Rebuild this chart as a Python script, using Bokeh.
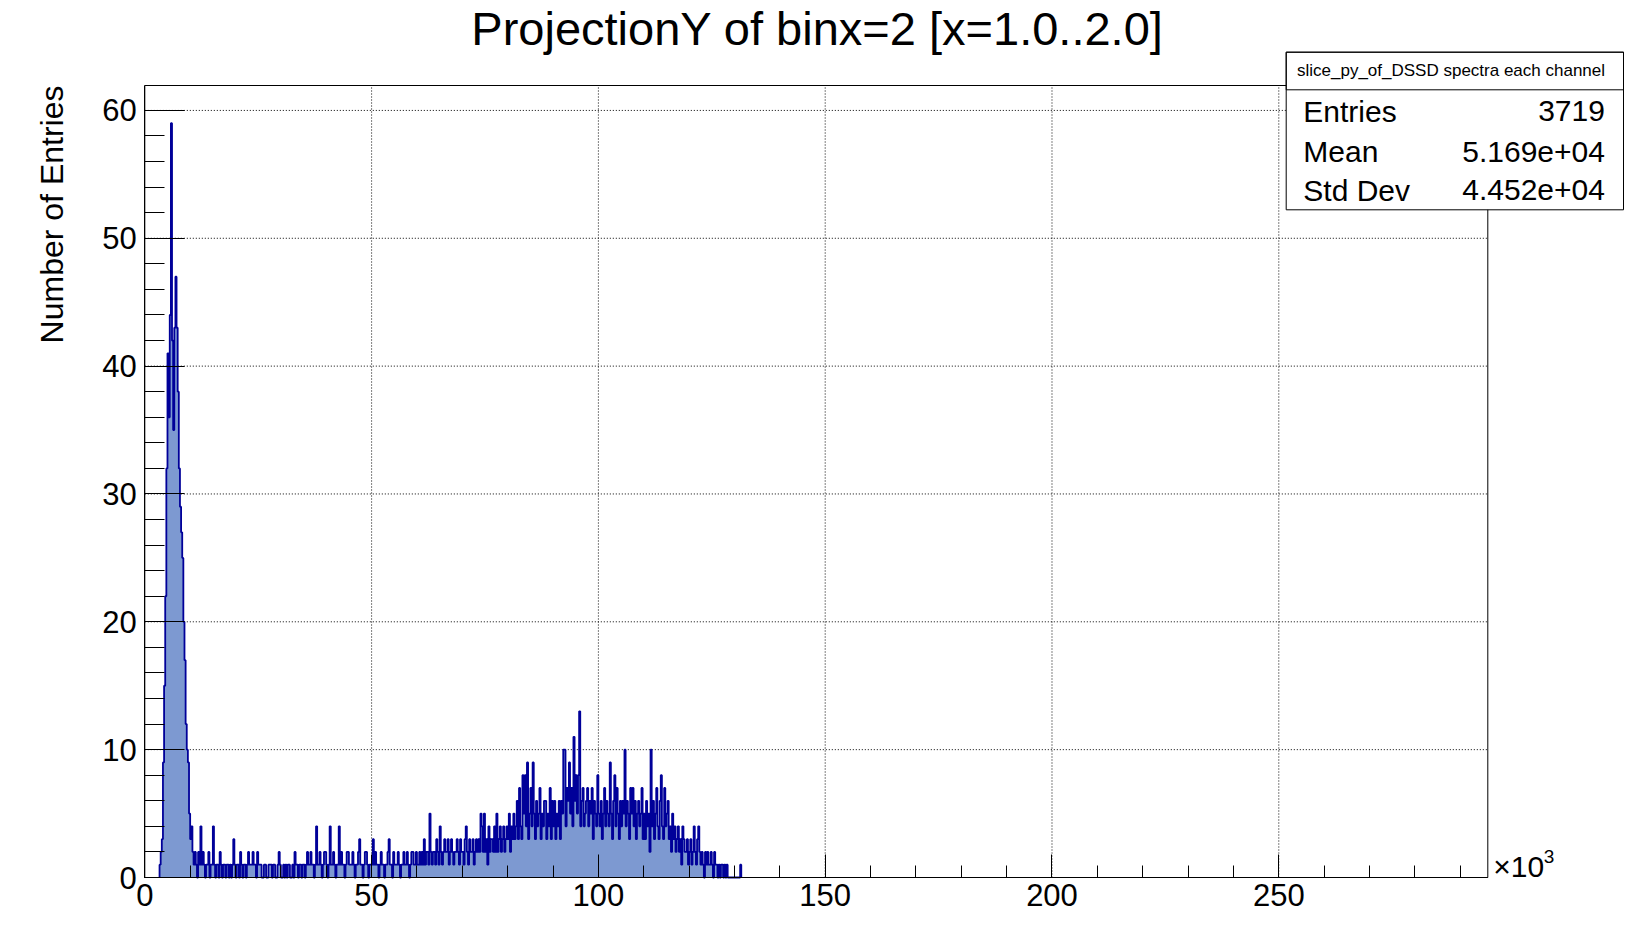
import numpy as np
from bokeh.plotting import figure
from bokeh.models import Range1d, FixedTicker, Label, BoxAnnotation
from bokeh.embed import file_html
from bokeh.resources import INLINE

# ---------------- data (x in units of 10^3) ----------------
bin_start = 3.25
bin_width = 0.25

peak_counts = [1, 2, 3, 9, 15, 22, 32, 41, 36, 44, 59, 42, 35, 43, 47, 43, 38, 32, 29, 27,
               25, 20, 17, 12, 10, 9, 5, 3, 4]
tail_counts_1 = [2, 1, 2, 1, 0, 2, 1, 4, 1, 2, 1, 0, 1, 1, 2, 0, 1, 1, 4, 1,
                 0, 1, 1, 0, 2, 1, 0, 1, 1, 0, 1, 1, 0, 1, 0, 1, 3, 1, 0, 1,
                 1, 0, 2, 1, 0, 1, 1, 0, 1, 2, 1]
tail_counts_2 = [1, 1, 2, 1, 1, 0, 2, 1, 1, 1, 0, 0, 1, 1, 0, 0, 1, 1, 1, 0,
                 1, 1, 0, 0, 1, 2, 1, 0, 0, 1, 0, 1, 0, 1, 1, 0, 0, 1, 0, 2,
                 1, 1, 0, 1, 1, 0, 1, 1, 0, 1, 2, 1, 1]
tail_counts_3 = [2, 1, 1, 0, 1, 4, 1, 1, 2, 1, 0, 1, 2, 2, 1, 0, 1, 4, 1, 1,
                 2, 1, 0, 1, 1, 4, 1, 2, 1, 1, 0, 1, 2, 2, 1, 1]
tail_counts_4 = [1, 2, 1, 0, 1, 1, 2, 3, 1, 1, 0, 1, 2, 2, 1, 0, 1, 1]
tail_counts_5 = [1, 3, 1, 2, 1, 1, 0, 1, 2, 1, 1, 0, 1, 1, 2, 3, 1, 1, 0, 2,
                 1, 1, 1, 2, 1, 0]
tail_counts_6 = [1, 1, 2, 1, 1, 2, 1, 0, 1, 2, 2, 1, 1, 2, 1, 1, 2, 1, 2, 1,
                 3, 1, 2, 2, 1, 5]
tail_counts_7 = [2, 1, 2, 2, 1, 3, 2, 1, 4, 2, 1, 2, 3, 2, 2, 3, 1, 2, 3, 2,
                 1, 2, 2, 3, 2, 1, 3, 2]
bump_counts_1 = [2, 1, 3, 4, 2, 1, 3, 2, 2, 3, 1, 2, 3, 2, 3, 2, 5, 4, 2, 5,
                 2, 3, 1, 4, 2, 3, 3, 2, 4, 2, 5, 2, 3, 4, 2, 3, 4, 2, 3, 4]
bump_counts_2 = [3, 5, 2, 4, 3, 5, 3, 4, 6, 3, 7, 4, 3, 8, 5, 8, 4, 9, 3, 5,
                 7, 4, 9, 5, 3, 6, 4, 5, 7, 3, 5, 4, 6, 6, 3, 5, 4, 7, 3, 6]
bump_counts_3 = [4, 6, 3, 5, 4, 6, 3, 6, 5, 10, 10, 4, 7, 6, 9, 5, 7, 4, 11, 6,
                 8, 5, 8, 13, 4, 6, 7, 4, 5, 6, 7, 4, 6, 5, 7, 3, 6, 5, 4, 8]
bump_counts_4 = [5, 4, 6, 3, 5, 7, 4, 6, 5, 4, 9, 5, 3, 6, 8, 4, 7, 5, 3, 6,
                 4, 6, 5, 10, 4, 6, 5, 3, 7, 5, 7, 4, 6, 3, 5, 6, 4, 5, 7, 3]
bump_counts_5 = [5, 3, 6, 4, 5, 2, 10, 4, 6, 3, 5, 7, 4, 3, 6, 8, 4, 3, 7, 4,
                 5, 6, 3, 4, 2, 5, 3, 4, 2, 3, 4, 2, 3, 1, 4, 3, 2, 2, 3, 1]
bump_counts_6 = [2, 3, 1, 2, 4, 2, 1, 3, 4, 2, 1, 2, 1, 0, 2, 1, 2, 1, 1, 2,
                 1, 0, 2, 1, 1, 0, 1, 0, 1, 1, 0, 1, 0, 1]
end_counts = [0, 0, 0, 0, 0, 0, 0, 0, 0, 0, 0, 1]

x_major = [0, 50, 100, 150, 200, 250]
x_minor = list(range(0, 300, 10))
y_major = [0, 10, 20, 30, 40, 50, 60]
y_minor = list(range(0, 62, 2))

title_text = "ProjectionY of binx=2 [x=1.0..2.0]"
y_title = "Number of Entries"
stats_name = "slice_py_of_DSSD spectra each channel"
stats_rows = [("Entries", "3719"), ("Mean", "5.169e+04"), ("Std Dev", "4.452e+04")]

counts = np.array(peak_counts + tail_counts_1 + tail_counts_2 + tail_counts_3 + tail_counts_4
                  + tail_counts_5 + tail_counts_6 + tail_counts_7 + bump_counts_1 + bump_counts_2
                  + bump_counts_3 + bump_counts_4 + bump_counts_5 + bump_counts_6 + end_counts,
                  dtype=float)
edges = bin_start + bin_width * np.arange(len(counts) + 1)

# step outline path (ROOT-like histogram outline)
sx = np.concatenate([[edges[0]], [edges[0]], np.repeat(edges[1:-1], 2), [edges[-1]], [edges[-1]]])
sy = np.concatenate([[0.0], np.repeat(counts, 2), [0.0]])

# ---------------- layout geometry (pixels) ----------------
W, H = 1625, 930
FRAME_L, FRAME_R, FRAME_T, FRAME_B = 144.3, 1487.3, 85.0, 877.0
X_MAX = 296.08
Y_MAX = 61.95
kx = (FRAME_R - FRAME_L) / X_MAX
ky = (FRAME_B - FRAME_T) / Y_MAX


def dx(px):
    return (px - FRAME_L) / kx


def dy(py):
    return (FRAME_B - py) / ky


FONT = "Liberation Sans"

p = figure(width=W, height=H, output_backend="svg", toolbar_location=None,
           x_range=Range1d(dx(0), dx(W)), y_range=Range1d(dy(H), dy(0)))
p.min_border = 0
p.min_border_left = 0
p.min_border_right = 0
p.min_border_top = 0
p.min_border_bottom = 0
p.outline_line_color = None
p.background_fill_color = "white"
p.border_fill_color = "white"
p.xgrid.visible = False
p.ygrid.visible = False

# dotted grid at the major ticks, limited to the data frame
p.segment(x0=x_major[1:], y0=[0] * 5, x1=x_major[1:], y1=[Y_MAX] * 5,
          line_color="black", line_width=1, line_dash="1 2")
p.segment(x0=[0] * 6, y0=y_major[1:], x1=[X_MAX] * 6, y1=y_major[1:],
          line_color="black", line_width=1, line_dash="1 2")

# histogram
p.patch(sx, sy, fill_color="#7d99d1", line_color=None)
p.line(sx, sy, line_color="#000099", line_width=1.8)

# axes fixed at the ROOT frame edges
p.xaxis.fixed_location = 0
p.yaxis.fixed_location = 0
p.xaxis.bounds = (0, X_MAX)
p.yaxis.bounds = (0, Y_MAX)
for ax in (p.xaxis[0], p.yaxis[0]):
    ax.axis_line_color = "black"
    ax.major_tick_line_color = "black"
    ax.minor_tick_line_color = "black"
    ax.major_tick_out = 0
    ax.minor_tick_out = 0
    ax.major_label_text_font = FONT
    ax.major_label_text_font_size = "31px"
    ax.major_label_text_color = "black"

p.xaxis.ticker = FixedTicker(ticks=x_major, minor_ticks=x_minor)
p.yaxis.ticker = FixedTicker(ticks=y_major, minor_ticks=y_minor)
p.xaxis.major_tick_in = 23
p.xaxis.minor_tick_in = 12
p.yaxis.major_tick_in = 40
p.yaxis.minor_tick_in = 20
p.xaxis.major_label_standoff = 6
p.yaxis.major_label_standoff = 8

# frame box
p.add_layout(BoxAnnotation(left=0, right=X_MAX, bottom=0, top=Y_MAX, fill_alpha=0,
                           line_color="black", line_width=1, line_alpha=1))

# title
p.add_layout(Label(x=dx(817), y=dy(28.0), text=title_text, text_font=FONT, text_font_size="47px",
                   text_align="center", text_baseline="middle", text_color="black"))
# y axis title
p.add_layout(Label(x=dx(51.8), y=Y_MAX, text=y_title, angle=np.pi / 2, text_font=FONT,
                   text_font_size="32px", text_align="right", text_baseline="middle",
                   text_color="black"))
# x10^3 multiplier
p.add_layout(Label(x=dx(1492.7), y=dy(865.5), text="\u00d710", text_font=FONT,
                   text_font_size="30px", text_align="left", text_baseline="middle",
                   text_color="black"))
p.add_layout(Label(x=dx(1543.3), y=dy(856.0), text="3", text_font=FONT, text_font_size="19px",
                   text_align="left", text_baseline="middle", text_color="black"))

# stats box
p.add_layout(BoxAnnotation(left=dx(1285.7), right=dx(1623.0), top=dy(51.7), bottom=dy(209.3),
                           fill_color="white", fill_alpha=1, line_color="black",
                           line_width=1, line_alpha=1))
p.add_layout(BoxAnnotation(left=dx(1285.7), right=dx(1623.0), top=dy(51.7), bottom=dy(89.3),
                           fill_alpha=0, line_color="black", line_width=1, line_alpha=1))
p.add_layout(Label(x=dx(1450.5), y=dy(70.0), text=stats_name, text_font=FONT,
                   text_font_size="17px", text_align="center", text_baseline="middle",
                   text_color="black"))
row_py = [110.9, 151.3, 189.7]
for (name, val), py in zip(stats_rows, row_py):
    p.add_layout(Label(x=dx(1302.8), y=dy(py), text=name, text_font=FONT, text_font_size="30px",
                       text_align="left", text_baseline="middle", text_color="black"))
    p.add_layout(Label(x=dx(1604.4), y=dy(py), text=val, text_font=FONT, text_font_size="30px",
                       text_align="right", text_baseline="middle", text_color="black"))

open("out.html", "w").write(file_html(p, INLINE))
